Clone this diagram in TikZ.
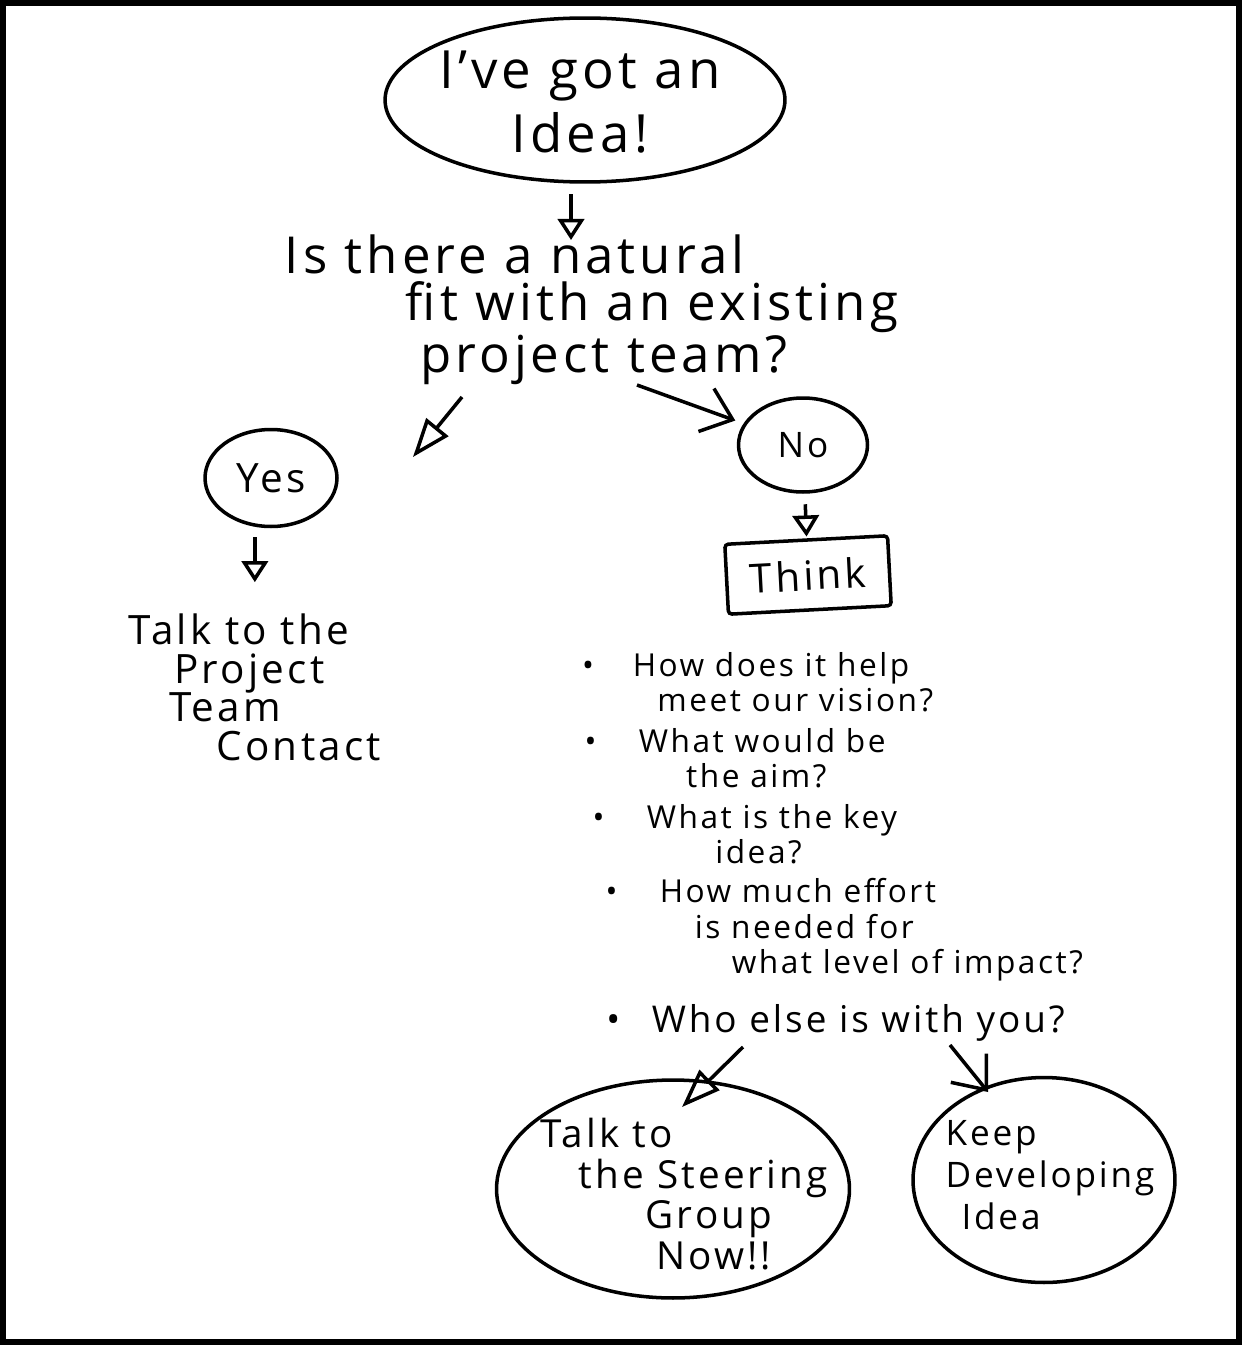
\documentclass[tikz,border=0pt]{standalone}
\usepackage{fontspec}
\setmainfont{Open Sans}[LetterSpace=8]
\usetikzlibrary{shapes.geometric, arrows.meta}

\begin{document}
\begin{tikzpicture}[x=0.02cm, y=-0.02cm, line width=2pt,
	bubble/.style={draw, ellipse, inner sep=0pt},
	txt/.style={inner sep=0pt, align=left},
	tri/.style={-{Triangle[open, length=12pt, width=15pt]}},
	bigtri/.style={-{Triangle[open, length=22pt, width=16pt]}},
	barb/.style={-{Straight Barb[length=16pt, width=26pt]}}]
	
	% Rahmen
	\useasboundingbox (0,0) rectangle (1242,1345);
	\draw[line width=3.6pt] (3,3) rectangle (1239,1342);
	
	% Idee
	\node[bubble, minimum width=8cm, minimum height=3.28cm] (idea) at (585,100) {};
	\node[txt, align=center, font=\fontsize{30}{36}\selectfont] (ideatxt) at (580,102) {I've got an\\Idea!};
	
	% Frage
	\node[txt, anchor=north west, font=\fontsize{29}{27}\selectfont] (quest) at (283,233)
	{Is there a natural\\\hspace*{69pt}fit with an existing\\\hspace*{77pt}project team?};
	\coordinate (qtop) at (571,240);
	\draw[tri, shorten <=6pt] (idea.south -| qtop) -- (qtop);
	
	% Ja / Nein
	\node[bubble, minimum width=2.64cm, minimum height=1.94cm, font=\fontsize{23}{24}\selectfont] (yes) at (271,478) {Yes};
	\node[bubble, minimum width=2.58cm, minimum height=1.88cm, font=\fontsize{20}{24}\selectfont] (no) at (803,445) {No};
	\coordinate (yesA) at (462,397);
	\coordinate (yesB) at (413,457);
	\coordinate (noA) at (637,385);
	\draw[bigtri] (yesA) -- (yesB);
	\draw[barb, shorten >=5pt] (noA) -- (no);
	
	% Zweig Ja
	\node[txt, anchor=north west, font=\fontsize{23}{22}\selectfont] (pt) at (127,612)
	{Talk to the\\\hspace*{26pt}Project\\\hspace*{23pt}Team\\\hspace*{50pt}Contact};
	\draw[tri, shorten <=5pt, shorten >=17pt] (yes.south -| pt.north) -- (pt.north);
	
	% Zweig Nein
	\node[draw, rounded corners=2pt, rotate=3, minimum width=3.26cm, minimum height=1.4cm, font=\fontsize{23}{24}\selectfont] (think) at (808,575) {Think};
	\draw[tri, shorten <=6pt, shorten >=1pt] (no) -- (think);
	
	% Fragen
	\begin{scope}[every node/.style={txt, anchor=north west, font=\fontsize{18}{20}\selectfont}]
		\node (q1) at (631,651) {\llap{\textbullet\hspace{22pt}}How does it help\\\hspace*{14pt}meet our vision?};
		\node (q2) at (637,727) {\llap{\textbullet\hspace{24pt}}What would be\\\hspace*{27pt}the aim?};
		\node (q3) at (645,803) {\llap{\textbullet\hspace{24pt}}What is the key\\\hspace*{39pt}idea?};
		\node (q4) at (658,877) {\llap{\textbullet\hspace{24pt}}How much effort\\\hspace*{20pt}is needed for\\\hspace*{41pt}what level of impact?};
		\node[font=\fontsize{21}{19}\selectfont] (q5) at (650,1003) {\llap{\textbullet\hspace{18pt}}Who else is with you?};
	\end{scope}
	
	% Ergebnisse
	\node[bubble, minimum width=7.06cm, minimum height=4.36cm] (steer) at (673,1189) {};
	\node[txt, font=\fontsize{22}{23}\selectfont] (steertxt) at (684,1194)
	{Talk to\\\hspace*{22pt}the Steering\\\hspace*{60pt}Group\\\hspace*{66pt}Now!!};
	\node[bubble, minimum width=5.24cm, minimum height=4.1cm] (keep) at (1044,1180) {};
	\node[txt, font=\fontsize{20}{24}\selectfont] (keeptxt) at (1050,1175)
	{Keep\\Developing\\\hspace*{9pt}Idea};
	\coordinate (stA) at (743,1047);
	\coordinate (stB) at (682,1107);
	\coordinate (kpA) at (950,1045);
	\coordinate (kpB) at (988,1092);
	\draw[bigtri] (stA) -- (stB);
	\draw[barb] (kpA) -- (kpB);
	
\end{tikzpicture}
\end{document}
